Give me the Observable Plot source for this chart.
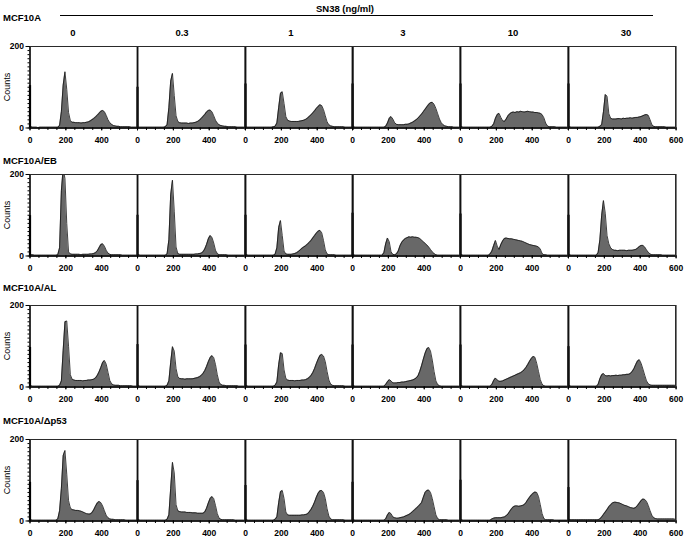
<!DOCTYPE html>
<html><head><meta charset="utf-8">
<script src="https://cdn.jsdelivr.net/npm/d3@7"></script>
<script src="https://cdn.jsdelivr.net/npm/@observablehq/plot@0.6"></script>
<style>
body{margin:0;background:#fff;font-family:"Liberation Sans",Arial,sans-serif;}
#fig{position:relative;width:685px;height:539px;overflow:hidden;}
.lbl{position:absolute;white-space:nowrap;line-height:1;color:#000;}
.pl{position:absolute;}
.bd{position:absolute;background:#2a2a2a;}
</style></head><body><div id="fig"></div><script>
// ---------------- data ----------------
const cellLines = ["MCF10A", "MCF10A/EB", "MCF10A/AL", "MCF10A/Δp53"];
const doses = ["0", "0.3", "1", "3", "10", "30"];
const doseTitle = "SN38  (ng/ml)";
const yLabel = "Counts";
const binWidth = 10;
const channelBins = [0,10,20,30,40,50,60,70,80,90,100,110,120,130,140,150,160,170,180,190,200,210,220,230,240,250,260,270,280,290,300,310,320,330,340,350,360,370,380,390,400,410,420,430,440,450,460,470,480,490,500,510,520,530,540,550,560,570,580,590];
const xDomain = [0, 600];
const yDomain = [0, 200];
const xMajorTicks = [0, 200, 400];
const xMajorTicksLast = [0, 200, 400, 600];
const xMinorTicks = [0,50,100,150,200,250,300,350,400,450,500,550,600];
const yMajorTicks = [0, 200];
const yMinorTicks = [0,10,20,30,40,50,60,70,80,90,100,110,120,130,140,150,160,170,180,190,200];
const spikeChannel = 0;

// MCF10A
const MCF10A_0 = [3,2,2,2,1,2,2,2,2,2, 2,2,2,2,2,2,6,40,105,138, 95,38,18,14,14,13,13,13,12,13, 13,14,15,17,20,23,27,31,36,41, 43,40,31,20,13,9,6,5,4,4, 3,3,3,3,3,3,2,2,2,2];
const MCF10A_03 = [2,2,2,2,2,2,2,2,2,2, 2,2,2,2,2,3,8,50,115,134, 80,30,16,13,12,12,12,12,11,12, 12,13,14,16,19,23,28,33,39,43, 44,40,30,19,12,8,6,5,4,4, 3,3,3,3,3,2,2,2,2,2];
const MCF10A_1 = [2,2,2,2,2,2,2,2,2,2, 2,2,2,2,2,3,4,12,50,85, 89,60,28,19,17,16,16,16,16,16, 17,18,19,21,24,28,32,37,42,48, 53,57,55,45,30,15,8,5,4,3, 3,3,3,3,3,2,2,2,2,2];
const MCF10A_3 = [3,2,2,2,2,2,2,2,2,2, 2,2,2,2,2,2,2,2,4,12, 24,28,22,13,9,8,8,8,8,9, 9,10,12,14,17,20,24,29,34,40, 46,52,58,62,63,58,48,35,22,13, 8,5,4,3,3,3,2,2,2,2];
const MCF10A_10 = [3,2,2,2,2,2,2,2,2,2, 2,2,2,2,2,2,2,4,10,24, 33,36,26,18,16,22,30,35,38,39, 38,40,39,41,40,39,40,41,40,39, 39,38,38,37,36,33,25,12,5,3, 3,3,3,2,2,2,2,2,2,2];
const MCF10A_30 = [3,2,2,2,2,2,2,2,2,2, 2,2,2,2,2,2,2,4,8,40, 82,78,35,24,22,22,22,23,23,22, 24,23,24,24,25,24,25,26,26,27, 28,30,32,33,31,20,8,4,3,3, 3,3,3,3,2,2,2,2,2,2];
// MCF10A/EB
const EB_0 = [3,3,2,2,2,2,2,2,2,2, 2,2,2,2,2,3,20,160,215,190, 80,10,5,4,4,4,4,4,3,4, 4,4,4,5,5,6,8,12,20,28, 30,24,14,7,4,3,3,3,3,3, 3,2,2,2,2,2,2,2,2,2];
const EB_03 = [3,2,2,2,2,2,2,2,2,2, 2,2,2,2,2,2,5,40,150,186, 110,22,6,4,4,4,4,4,4,4, 4,4,5,5,6,7,10,17,28,42, 50,46,32,14,6,3,3,3,3,3, 2,2,2,2,2,2,2,2,2,2];
const EB_1 = [3,2,2,2,2,2,2,2,2,2, 2,2,2,2,2,2,4,20,70,87, 50,12,5,4,4,4,5,6,8,11, 15,19,22,25,29,33,38,44,50,56, 61,63,57,38,15,5,3,3,3,3, 2,2,2,2,2,2,2,2,2,2];
const EB_3 = [3,2,2,2,2,2,2,2,2,2, 2,2,2,2,2,2,2,8,30,44, 35,10,4,3,5,12,25,34,39,43, 45,47,46,47,46,46,45,43,39,35, 31,27,22,16,10,6,3,2,2,2, 2,2,2,2,2,2,2,2,2,2];
const EB_10 = [3,2,2,2,2,2,2,2,2,2, 2,2,2,2,2,2,5,12,26,38, 24,16,28,37,43,44,43,42,42,41, 40,39,38,37,36,34,32,30,28,27, 26,25,24,22,17,6,3,3,2,2, 2,2,2,2,2,2,2,2,2,2];
const EB_30 = [3,2,2,2,2,2,2,2,2,2, 2,2,2,2,2,2,8,40,100,136, 105,50,30,20,16,14,14,13,14,14, 14,14,13,14,14,14,15,16,19,23, 26,26,22,15,9,5,3,3,3,3, 3,3,2,2,2,2,2,2,2,2];
// MCF10A/AL
const AL_0 = [3,2,2,2,2,2,2,2,2,2, 2,2,2,2,2,2,4,15,90,160, 162,100,30,19,17,16,16,16,16,15, 16,16,17,17,18,19,22,28,37,48, 60,65,56,36,16,8,5,4,4,4, 3,3,3,3,3,3,3,2,2,2];
const AL_03 = [3,2,2,2,2,2,2,2,2,2, 2,2,2,2,2,2,4,15,60,99, 88,45,25,21,20,20,19,20,20,20, 20,21,22,23,25,28,33,40,50,62, 72,77,72,55,30,12,6,4,4,3, 3,3,3,3,3,3,2,2,2,2];
const AL_1 = [3,2,2,2,2,2,2,2,2,2, 2,2,2,2,2,2,4,12,55,84, 82,42,21,17,16,16,16,15,16,16, 16,17,17,18,20,23,28,35,45,57, 68,77,80,76,62,38,17,7,4,3, 3,3,3,3,3,2,2,2,2,2];
const AL_3 = [3,2,2,2,2,2,2,2,2,2, 2,2,2,2,2,2,2,2,6,13, 18,15,10,10,10,11,11,12,12,13, 14,15,16,17,19,22,27,38,52,68, 83,94,97,88,66,38,15,6,3,2, 2,2,2,2,2,2,2,2,2,2];
const AL_10 = [3,2,2,2,2,2,2,2,2,2, 2,2,2,2,2,2,2,6,16,22, 17,14,14,15,17,19,21,23,25,27, 29,31,33,35,38,42,48,55,63,70, 75,73,58,38,18,7,3,2,2,2, 2,2,2,2,2,2,2,2,2,2];
const AL_30 = [3,2,2,2,2,2,2,2,2,2, 2,2,2,2,2,2,6,20,30,33, 28,27,28,27,28,28,29,28,29,29, 30,30,31,31,33,38,45,55,64,67, 58,44,29,15,8,5,4,4,4,4, 4,4,4,4,4,4,4,4,4,4];
// MCF10A/Δp53
const P53_0 = [3,2,2,2,2,2,2,2,2,2, 2,2,2,2,2,5,25,80,160,173, 115,50,32,28,27,26,26,25,24,22, 20,18,17,17,20,27,36,44,48,45, 37,25,14,8,5,4,4,3,3,3, 3,3,3,2,2,2,2,2,2,2];
const P53_03 = [3,2,2,2,2,2,2,2,2,2, 2,2,2,2,2,2,4,15,80,144, 118,40,25,23,22,22,22,21,21,21, 20,20,20,19,19,19,19,22,31,44, 55,60,55,38,18,7,4,3,3,3, 3,3,3,3,2,2,2,2,2,2];
const P53_1 = [3,2,2,2,2,2,2,2,2,2, 2,2,2,2,2,2,4,10,45,72, 75,55,22,15,14,14,14,14,14,14, 14,15,15,16,17,22,28,36,46,58, 68,74,75,70,55,30,12,5,3,3, 3,3,3,3,3,2,2,2,2,2];
const P53_3 = [3,2,2,2,2,2,2,2,2,2, 2,2,2,2,2,2,2,2,5,15, 21,18,10,8,7,7,8,9,10,12, 14,16,19,23,27,31,35,40,45,58, 70,75,76,70,55,35,15,6,3,3, 3,3,3,2,2,2,2,2,2,2];
const P53_10 = [3,2,2,2,2,2,2,2,2,2, 2,2,2,2,2,2,2,5,7,8, 8,8,8,9,10,13,17,24,30,35, 37,37,36,37,38,40,45,52,58,64, 68,71,70,60,40,18,6,3,3,3, 3,3,2,2,2,2,2,2,2,2];
const P53_30 = [3,3,3,3,3,3,3,3,3,3, 3,3,3,3,3,3,3,5,10,16, 22,28,35,40,44,46,46,45,44,42, 40,38,37,35,33,32,31,33,38,44, 50,54,53,48,38,25,14,8,6,5, 5,5,5,5,5,5,5,5,5,4];

// height of the debris spike in channel 0, per panel
const spikes_MCF10A = [104, 100, 108, 108, 108, 108];
const spikes_EB = [99, 100, 100, 105, 103, 100];
const spikes_AL = [97, 104, 103, 103, 103, 99];
const spikes_P53 = [95, 99, 87, 95, 100, 82];

const histograms = [
  [MCF10A_0, MCF10A_03, MCF10A_1, MCF10A_3, MCF10A_10, MCF10A_30],
  [EB_0, EB_03, EB_1, EB_3, EB_10, EB_30],
  [AL_0, AL_03, AL_1, AL_3, AL_10, AL_30],
  [P53_0, P53_03, P53_1, P53_3, P53_10, P53_30]
];
const spikes = [spikes_MCF10A, spikes_EB, spikes_AL, spikes_P53];

// ---------------- layout ----------------
const fig = document.getElementById("fig");
const rowTop = [46, 174, 305, 439];
const rowLabelY = [17.5, 161, 287.5, 421];
const panelH = 81.5;
const panelX0 = 29.5, panelW = 107.6;
const doseX = [73, 182, 291, 403, 513, 626];

function addText(txt, x, y, opts = {}) {
  const d = document.createElement("div");
  d.className = "lbl";
  d.textContent = txt;
  d.style.left = x + "px";
  d.style.top = y + "px";
  d.style.fontSize = (opts.size || 9.5) + "px";
  d.style.fontWeight = opts.weight || "bold";
  let tr = opts.center ? "translate(-50%,-50%)" : "translate(0,-50%)";
  if (opts.rotate) tr += " rotate(-90deg)";
  d.style.transform = tr;
  fig.appendChild(d);
}
function addBorder(left, top, width, height) {
  const d = document.createElement("div");
  d.className = "bd";
  d.style.left = left + "px"; d.style.top = top + "px";
  d.style.width = width + "px"; d.style.height = height + "px";
  fig.appendChild(d);
}

// header
addText(doseTitle, 345, 8.5, {center: true, size: 9.5});
const hl = document.createElement("div");
hl.style.cssText = "position:absolute;left:60px;top:14.8px;width:593px;height:1.5px;background:#000;";
fig.appendChild(hl);
doses.forEach((d, i) => addText(d, doseX[i], 32.5, {center: true, size: 9.5}));
cellLines.forEach((c, r) => addText(c, 3, rowLabelY[r], {size: 9.5}));

function panel(vals, spike, col) {
  const data = channelBins.map((c, i) => ({ch: c + binWidth / 2, n: vals[i]}));
  const ml = col === 0 ? panelX0 : 3, mr = 3, mt = 3, mb = 20;
  const marks = [
    Plot.areaY(data, {x: "ch", y: "n", fill: "#686868", clip: true}),
    Plot.lineY(data, {x: "ch", y: "n", stroke: "#111", strokeWidth: 0.8, clip: true}),
    Plot.frame({stroke: "#222", strokeWidth: 1}),
    Plot.ruleX([{ch: spikeChannel, n: spike}], {x: "ch", y1: 0, y2: "n", stroke: "#000", strokeWidth: 2.2}),
    Plot.ruleY([0], {stroke: "#000", strokeWidth: 1.4}),
    Plot.axisX(xMinorTicks, {tickSize: 2.5, tickFormat: () => "", label: null}),
    Plot.axisX(col === 5 ? xMajorTicksLast : xMajorTicks, {tickSize: 3, tickPadding: 5.5, fontWeight: "bold", label: null})
  ];
  if (col > 0) marks.push(Plot.ruleX([spikeChannel], {stroke: "#111", strokeWidth: 1.8}));
  if (col === 0) {
    marks.push(Plot.ruleX([spikeChannel], {stroke: "#000", strokeWidth: 1.3}));
    marks.push(Plot.axisY(yMinorTicks, {tickSize: 2, tickFormat: () => "", label: null}));
    marks.push(Plot.axisY(yMajorTicks, {tickSize: 4, tickPadding: 2, fontWeight: "bold", label: null}));
  }
  return Plot.plot({
    width: panelW + ml + mr,
    height: panelH + mt + mb,
    marginLeft: ml, marginRight: mr, marginTop: mt, marginBottom: mb,
    x: {domain: xDomain, label: null},
    y: {domain: yDomain, label: null, axis: col === 0 ? undefined : null},
    style: {fontFamily: "Liberation Sans, Arial, sans-serif", fontSize: "8.5px", background: "transparent", overflow: "visible"},
    marks
  });
}

histograms.forEach((row, r) => {
  row.forEach((vals, c) => {
    const ml = c === 0 ? panelX0 : 3, mt = 3;
    const p = panel(vals, spikes[r][c], c);
    const wrap = document.createElement("div");
    wrap.className = "pl";
    wrap.style.left = (panelX0 + c * panelW - ml) + "px";
    wrap.style.top = (rowTop[r] - mt) + "px";
    wrap.appendChild(p);
    fig.appendChild(wrap);
  });
  // panel box: top edge and right edge of the row
  addBorder(panelX0, rowTop[r] - 0.5, 6 * panelW, 1);
  addBorder(panelX0 + 6 * panelW - 0.5, rowTop[r], 1, panelH);
  addText(yLabel, 6.5, rowTop[r] + panelH / 2, {center: true, rotate: true, size: 9, weight: "normal"});
});
</script></body></html>
